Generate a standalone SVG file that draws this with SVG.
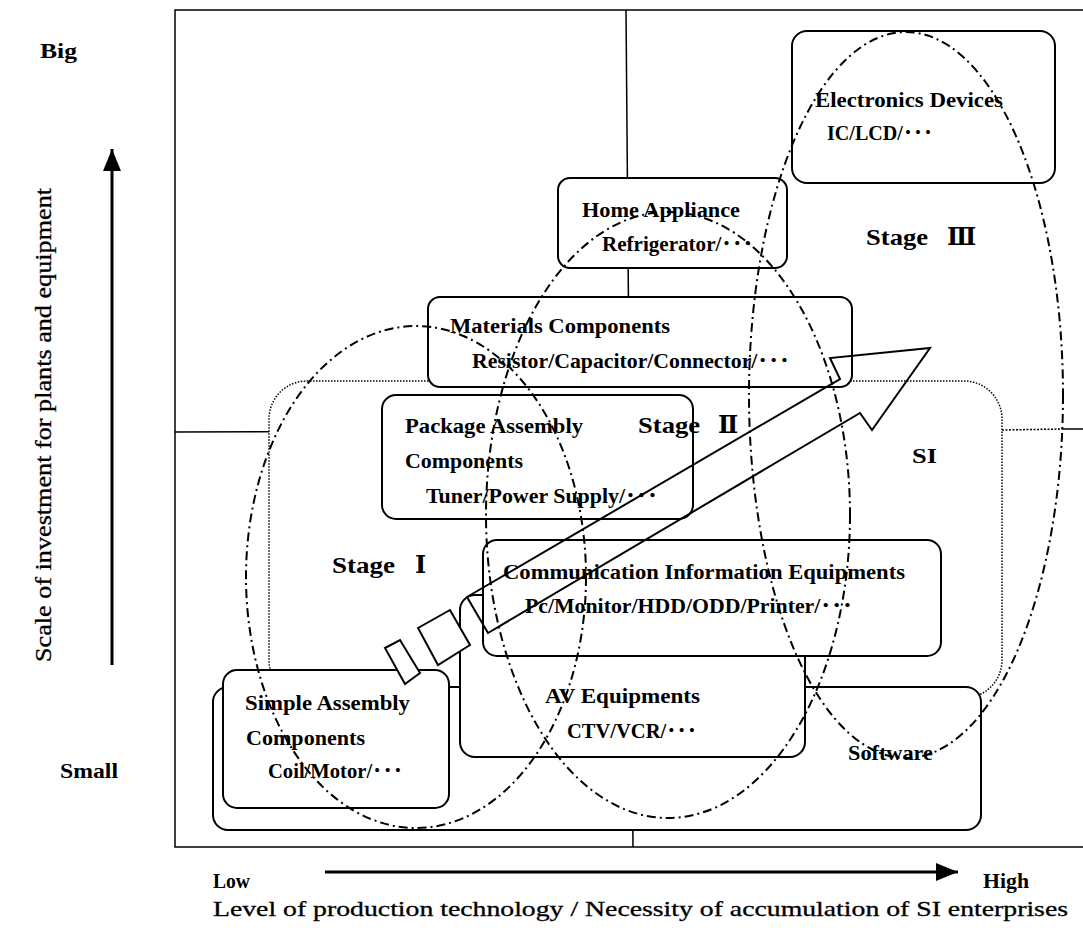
<svg xmlns="http://www.w3.org/2000/svg" width="1083" height="930" viewBox="0 0 1083 930">
<style>
  .box{fill:#fff;stroke:#000;stroke-width:2}
  .lbl{font-family:"Liberation Serif","DejaVu Serif","Noto Sans CJK JP",serif;font-weight:bold;font-size:21.5px;fill:#000}
  .stage{font-size:24px}
  .reg{font-weight:normal;stroke:#000;stroke-width:0.3}
  .ell{fill:none;stroke:#000;stroke-width:2;stroke-dasharray:9 4 2 4}
  .si{fill:#fff;stroke:#000;stroke-width:1.5;stroke-dasharray:1.5 1.5}
  .thin{fill:none;stroke:#000;stroke-width:1.5}
  .axis{fill:none;stroke:#000;stroke-width:3}
  .big{fill:none;stroke:#000;stroke-width:2;stroke-linejoin:miter}
  .tail{fill:#fff;stroke:#000;stroke-width:2}
</style>
<defs>
  <marker id="head" markerUnits="userSpaceOnUse" markerWidth="24" markerHeight="20" refX="22" refY="9" orient="auto">
    <path d="M0,0 L22,9 L0,18 Z" fill="#000"/>
  </marker>
</defs>
<rect width="1083" height="930" fill="#fff"/>

<!-- axes, frame and quadrant lines -->
<g id="connectors">
  <path class="thin" d="M1090,10 H175 V847 H1090" stroke-width="2"/>
  <line class="thin" x1="626" y1="10" x2="633" y2="847" stroke-width="1.3"/>
  <line class="thin" x1="175" y1="432" x2="1002" y2="430" stroke-width="1.3"/>
  <line class="thin" x1="1002" y1="430" x2="1062" y2="429" stroke-width="1.3" stroke-dasharray="2 1.5"/>
  <line class="thin" x1="1062" y1="429" x2="1090" y2="429" stroke-width="1.5"/>
  <line class="axis" x1="112" y1="665" x2="112" y2="149" marker-end="url(#head)"/>
  <line class="axis" x1="325" y1="872" x2="958" y2="872" marker-end="url(#head)"/>
</g>

<g id="axis-labels" class="lbl">
  <text x="40" y="58" textLength="37" lengthAdjust="spacingAndGlyphs">Big</text>
  <text x="60" y="778" textLength="58" lengthAdjust="spacingAndGlyphs">Small</text>
  <text x="213" y="888" textLength="37" lengthAdjust="spacingAndGlyphs">Low</text>
  <text x="983" y="888" textLength="46" lengthAdjust="spacingAndGlyphs">High</text>
  <text class="reg" x="213" y="916" font-size="21" textLength="855" lengthAdjust="spacingAndGlyphs">Level of production technology / Necessity of accumulation of SI enterprises</text>
  <text class="reg" transform="translate(51,662) rotate(-90)" font-size="23" stroke-width="0.2" textLength="474" lengthAdjust="spacingAndGlyphs">Scale of investment for plants and equipment</text>
</g>

<!-- SI region -->
<g id="si">
  <rect class="si" x="269" y="381" width="733" height="317" rx="38"/>
  <text class="lbl" x="912" y="463" font-size="25" font-weight="normal" textLength="25" lengthAdjust="spacingAndGlyphs">SI</text>
</g>

<g id="software">
  <rect class="box" x="213" y="687" width="768" height="143" rx="15"/>
  <text class="lbl" x="848" y="760" textLength="85" lengthAdjust="spacingAndGlyphs">Software</text>
</g>

<g id="av">
  <rect class="box" x="460" y="595" width="345" height="162" rx="15"/>
  <text class="lbl" x="545" y="703" textLength="155" lengthAdjust="spacingAndGlyphs">AV Equipments</text>
  <text class="lbl" x="567" y="738" textLength="130" lengthAdjust="spacingAndGlyphs">CTV/VCR/･･･</text>
</g>

<g id="simple">
  <rect class="box" x="223" y="670" width="226" height="138" rx="14"/>
  <text class="lbl" x="245" y="710" textLength="165" lengthAdjust="spacingAndGlyphs">Simple Assembly</text>
  <text class="lbl" x="246" y="745" textLength="119" lengthAdjust="spacingAndGlyphs">Components</text>
  <text class="lbl" x="268" y="778" textLength="135" lengthAdjust="spacingAndGlyphs">Coil/Motor/･･･</text>
</g>

<g id="comm">
  <rect class="box" x="483" y="540" width="458" height="116" rx="14"/>
  <text class="lbl" x="503" y="579" textLength="402" lengthAdjust="spacingAndGlyphs">Communication Information Equipments</text>
  <text class="lbl" x="525" y="613" textLength="328" lengthAdjust="spacingAndGlyphs">Pc/Monitor/HDD/ODD/Printer/･･･</text>
</g>

<g id="package">
  <rect class="box" x="382" y="395" width="311" height="124" rx="14"/>
  <text class="lbl" x="405" y="433" textLength="178" lengthAdjust="spacingAndGlyphs">Package Assembly</text>
  <text class="lbl" x="405" y="468" textLength="118" lengthAdjust="spacingAndGlyphs">Components</text>
  <text class="lbl" x="426" y="503" textLength="232" lengthAdjust="spacingAndGlyphs">Tuner/Power Supply/･･･</text>
</g>

<g id="materials">
  <rect class="box" x="428" y="297" width="424" height="90" rx="12"/>
  <text class="lbl" x="450" y="333" textLength="220" lengthAdjust="spacingAndGlyphs">Materials Components</text>
  <text class="lbl" x="472" y="368" textLength="318" lengthAdjust="spacingAndGlyphs">Resistor/Capacitor/Connector/･･･</text>
</g>

<g id="home">
  <rect class="box" x="558" y="178" width="229" height="90" rx="12"/>
  <text class="lbl" x="582" y="217" textLength="158" lengthAdjust="spacingAndGlyphs">Home Appliance</text>
  <text class="lbl" x="602" y="251" textLength="151" lengthAdjust="spacingAndGlyphs">Refrigerator/･･･</text>
</g>

<g id="electronics">
  <rect class="box" x="792" y="31" width="263" height="152" rx="15"/>
  <text class="lbl" x="815" y="107" textLength="188" lengthAdjust="spacingAndGlyphs">Electronics Devices</text>
  <text class="lbl" x="827" y="140" textLength="106" lengthAdjust="spacingAndGlyphs">IC/LCD/･･･</text>
</g>

<!-- stage labels -->
<g id="stage-1" class="lbl stage">
  <text x="332" y="573" textLength="63" lengthAdjust="spacingAndGlyphs">Stage</text>
  <text x="415" y="573">Ⅰ</text>
</g>
<g id="stage-2" class="lbl stage">
  <text x="638" y="433" textLength="62" lengthAdjust="spacingAndGlyphs">Stage</text>
  <text x="718" y="433">Ⅱ</text>
</g>
<g id="stage-3" class="lbl stage">
  <text x="866" y="245" textLength="62" lengthAdjust="spacingAndGlyphs">Stage</text>
  <text x="947" y="245">Ⅲ</text>
</g>

<!-- growth arrow with broken tail -->
<g id="growth-arrow">
  <polygon class="tail" points="385,648 400,640 420,673 405,684"/>
  <polygon class="tail" points="418,628 450,610 470,645 438,665"/>
  <path class="big" d="M467,597 L840,379 L830,358 L930,348 L872,430 L860,413 L488,633 Z"/>
</g>

<!-- stage regions -->
<g id="stages">
  <ellipse class="ell" cx="416" cy="577" rx="170" ry="251"/>
  <ellipse class="ell" cx="668" cy="515" rx="182" ry="303"/>
  <ellipse class="ell" cx="906" cy="395" rx="157" ry="363"/>
</g>
</svg>
